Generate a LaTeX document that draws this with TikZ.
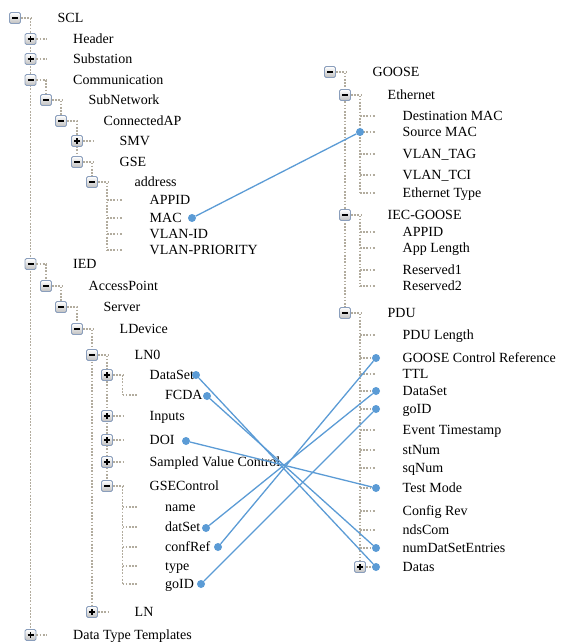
\documentclass[tikz,border=0pt]{standalone}
\usepackage{fontspec}
\setmainfont{Liberation Serif}
\usepackage{tikz}
\usetikzlibrary{calc,positioning,backgrounds}

\definecolor{linkblue}{RGB}{91,155,213}
\definecolor{treegray}{RGB}{178,172,158}
\definecolor{boxedge}{RGB}{138,158,188}

\tikzset{
  tline/.style={treegray, line width=1.7pt, dash pattern=on 1.7pt off 1.5pt},
  tbox/.style={draw=boxedge, line width=0.9pt, rounded corners=1.5pt,
    top color=white, bottom color=black!25, minimum size=11pt, inner sep=0pt},
  minusbox/.style={tbox, path picture={
    \draw[black, line width=1.6pt] ([xshift=-3pt]path picture bounding box.center)
      -- ([xshift=3pt]path picture bounding box.center);}},
  plusbox/.style={tbox, path picture={
    \draw[black, line width=1.6pt] ([xshift=-3pt]path picture bounding box.center)
      -- ([xshift=3pt]path picture bounding box.center)
      ([yshift=-3pt]path picture bounding box.center)
      -- ([yshift=3pt]path picture bounding box.center);}},
  lbl/.style={anchor=west, inner sep=0pt, text height=9.5pt, text depth=0pt,
    font=\fontsize{14}{16}\selectfont},
  linkdot/.style={circle, fill=linkblue, inner sep=0pt, minimum size=8pt},
  link/.style={linkblue, line width=1.3pt}
}

\begin{document}
\begin{tikzpicture}[x=1pt, y=-1pt]
  \useasboundingbox (0,0) rectangle (562,644);

  % open entries
  \foreach \x/\y/\n/\t in {15/18/scl/SCL, 30.5/80/com/Communication,
      46/100/snw/SubNetwork, 61/121/cap/ConnectedAP, 77/162/gse/GSE,
      92/182/adr/address, 30.5/264/ied/IED, 46/286/acp/AccessPoint,
      61/307/srv/Server, 77/329/ldv/LDevice, 92/355/lnz/LN0,
      107/486/gsc/GSEControl,
      330/72/goose/GOOSE, 345/95/eth/Ethernet, 345/215/iec/IEC-GOOSE,
      345/313/pdu/PDU}{
    \node[minusbox] (b-\n) at (\x,\y) {};
    \draw[tline] (b-\n.east) -- ++(10,0);
    \node[lbl] (\n) at (\x+42.5,\y) {\t};
  }

  % closed entries
  \foreach \x/\y/\n/\t in {30.5/39/hdr/Header, 30.5/59/sub/Substation,
      77/141/smv/SMV, 107/375/dst/DataSet, 107/416/inp/Inputs,
      107/440/doi/DOI, 107/462/svc/Sampled Value Control, 92/612/ln/LN,
      30.5/635/dtt/Data Type Templates, 360/567/datas/Datas}{
    \node[plusbox] (b-\n) at (\x,\y) {};
    \draw[tline] (b-\n.east) -- ++(10,0);
    \node[lbl] (\n) at (\x+42.5,\y) {\t};
  }

  % leaves
  \foreach \x/\y/\n/\t in {107/200/appid/APPID, 107/218/mac/MAC,
      107/234/vid/VLAN-ID, 107/250/vpr/VLAN-PRIORITY, 122.5/395/fcda/FCDA,
      122.5/507/nam/name, 122.5/527/dts/datSet, 122.5/547/crf/confRef,
      122.5/566/typ/type, 122.5/584/gid/goID,
      360/116/dmac/Destination MAC, 360/132/smac/Source MAC,
      360/154/vtag/VLAN\_TAG, 360/175/vtci/VLAN\_TCI, 360/193/etyp/Ethernet Type,
      360/232/apid/APPID, 360/248/alen/App Length, 360/270/res1/Reserved1,
      360/286/res2/Reserved2,
      360/335/plen/PDU Length, 360/358/gcr/GOOSE Control Reference,
      360/374/ttl/TTL, 360/391/pds/DataSet, 360/409/pgid/goID,
      360/430/evts/Event Timestamp, 360/450/stn/stNum, 360/468/sqn/sqNum,
      360/488/tmod/Test Mode, 360/511/crev/Config Rev, 360/530/nds/ndsCom,
      360/548/nde/numDatSetEntries}{
    \coordinate (s-\n) at (\x,\y);
    \draw[tline] (s-\n) -- ++(15,0);
    \node[lbl] (\n) at (\x+42.5,\y) {\t};
  }

  % tree branches
  \begin{pgfonlayer}{background}
    \draw[tline] (b-scl.east) -| (b-dtt.north);
    \draw[tline] (b-com.east) -| (b-snw.north);
    \draw[tline] (b-snw.east) -| (b-cap.north);
    \draw[tline] (b-cap.east) -| (b-gse.north);
    \draw[tline] (b-gse.east) -| (b-adr.north);
    \draw[tline] (b-adr.east) -| (s-vpr);
    \draw[tline] (b-ied.east) -| (b-acp.north);
    \draw[tline] (b-acp.east) -| (b-srv.north);
    \draw[tline] (b-srv.east) -| (b-ldv.north);
    \draw[tline] (b-ldv.east) -| (b-ln.north);
    \draw[tline] (b-lnz.east) -| (b-gsc.north);
    \draw[tline] (b-dst.east) -| (s-fcda);
    \draw[tline] (b-gsc.east) -| (s-gid);
    \draw[tline] (b-goose.east) -| (b-pdu.north);
    \draw[tline] (b-eth.east) -| (s-etyp);
    \draw[tline] (b-iec.east) -| (s-res2);
    \draw[tline] (b-pdu.east) -| (b-datas.north);
  \end{pgfonlayer}

  % mapping dots
  \node[linkdot] (d-mac) at (192,218) {};
  \node[linkdot] (d-dst) at (196,375) {};
  \node[linkdot] (d-fcda) at (207,396) {};
  \node[linkdot] (d-doi) at (186,441) {};
  \node[linkdot] (d-dts) at (206,528) {};
  \node[linkdot] (d-crf) at (218,547) {};
  \node[linkdot] (d-gid) at (201,584) {};
  \node[linkdot] (d-smac) at (360,132) {};
  \node[linkdot] (d-gcr) at (376,358) {};
  \node[linkdot] (d-pds) at (376,391) {};
  \node[linkdot] (d-pgid) at (376,409) {};
  \node[linkdot] (d-tmod) at (376,488) {};
  \node[linkdot] (d-nde) at (376,548) {};
  \node[linkdot] (d-datas) at (376,567) {};

  \draw[link] (d-mac) -- (d-smac);
  \draw[link] (d-dst) -- (d-datas);
  \draw[link] (d-fcda) -- (d-nde);
  \draw[link] (d-doi) -- (d-tmod);
  \draw[link] (d-dts) -- (d-pds);
  \draw[link] (d-crf) -- (d-gcr);
  \draw[link] (d-gid) -- (d-pgid);
\end{tikzpicture}
\end{document}
